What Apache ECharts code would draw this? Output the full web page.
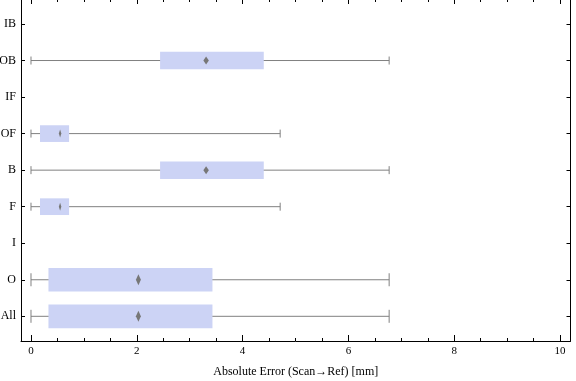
<!DOCTYPE html>
<html>
<head>
<meta charset="utf-8">
<script src="https://cdn.jsdelivr.net/npm/echarts@6/dist/echarts.min.js"></script>
<style>
html,body{margin:0;padding:0;background:#fff;}
#main{width:576px;height:381px;}
</style>
</head>
<body>
<div id="main"></div>
<script>
// ---- data ----
const categories = ['All', 'O', 'I', 'F', 'B', 'OF', 'IF', 'OB', 'IB'];
const whiskerLow  = [0,    0,    null, 0,    0,    0,    null, 0,    null];
const q1          = [0.33, 0.33, null, 0.17, 2.44, 0.17, null, 2.44, null];
const median      = [2.03, 2.03, null, 0.55, 3.31, 0.55, null, 3.31, null];
const q3          = [3.43, 3.43, null, 0.72, 4.40, 0.72, null, 4.40, null];
const whiskerHigh = [6.77, 6.77, null, 4.71, 6.77, 4.71, null, 6.77, null];
const xMajorTicks = [0, 2, 4, 6, 8, 10];
const xMinorTicks = [0.5, 1, 1.5, 2.5, 3, 3.5, 4.5, 5, 5.5, 6.5, 7, 7.5, 8.5, 9, 9.5];
const yTickValues = [1, 2, 3, 4, 5, 6, 7, 8, 9];
const xTitle = 'Absolute Error (Scan\u2192Ref) [mm]';

// ---- styles (not data) ----
const boxStyle = {
  All: {h: 23.7, cap: 13, dw: 5, dh: 11},
  O:   {h: 23.7, cap: 13, dw: 5, dh: 11},
  F:   {h: 16.7, cap: 8,  dw: 2.5, dh: 8},
  OF:  {h: 16.7, cap: 8,  dw: 2.5, dh: 8},
  B:   {h: 17.5, cap: 8,  dw: 5.5, dh: 8},
  OB:  {h: 17.5, cap: 8,  dw: 5.5, dh: 8}
};
const FONT = '"Liberation Serif", "DejaVu Serif", serif';
const BOX_FILL = '#ccd3f5';
const LINE_COLOR = '#808080';
const MED_COLOR = '#777777';

const seriesData = [];
categories.forEach((c, i) => {
  if (median[i] == null) return;
  seriesData.push([i + 1, whiskerLow[i], q1[i], median[i], q3[i], whiskerHigh[i]]);
});

function renderItem(params, api) {
  const yv = api.value(0);
  const cat = categories[yv - 1];
  const st = boxStyle[cat] || {h: 17, cap: 8, dw: 5, dh: 8};
  const pLow = api.coord([api.value(1), yv]);
  const pQ1 = api.coord([api.value(2), yv]);
  const pMed = api.coord([api.value(3), yv]);
  const pQ3 = api.coord([api.value(4), yv]);
  const pHigh = api.coord([api.value(5), yv]);
  const y = pLow[1];
  const lineStyle = {stroke: LINE_COLOR, lineWidth: 1, fill: null};
  return {
    type: 'group',
    children: [
      {type: 'line', shape: {x1: pLow[0], y1: y, x2: pHigh[0], y2: y}, style: lineStyle},
      {type: 'line', shape: {x1: pLow[0], y1: y - st.cap / 2, x2: pLow[0], y2: y + st.cap / 2}, style: lineStyle},
      {type: 'line', shape: {x1: pHigh[0], y1: y - st.cap / 2, x2: pHigh[0], y2: y + st.cap / 2}, style: lineStyle},
      {type: 'rect', shape: {x: pQ1[0], y: y - st.h / 2, width: pQ3[0] - pQ1[0], height: st.h}, style: {fill: BOX_FILL}},
      {type: 'polygon', shape: {points: [
        [pMed[0], y - st.dh / 2], [pMed[0] + st.dw / 2, y],
        [pMed[0], y + st.dh / 2], [pMed[0] - st.dw / 2, y]
      ]}, style: {fill: MED_COLOR}}
    ]
  };
}

const chart = echarts.init(document.getElementById('main'), null, {renderer: 'canvas'});
const XMIN = -0.189, XMAX = 10.198;
const axisLineStyle = {show: true, onZero: false, lineStyle: {color: '#000', width: 1}};
const noLine = {show: false, onZero: false};
chart.setOption({
  animation: false,
  backgroundColor: '#fff',
  grid: {left: 21, right: 5.5, top: -1, bottom: 40, containLabel: false, outerBoundsMode: 'none'},
  xAxis: [
    {
      type: 'value', min: XMIN, max: XMAX, position: 'bottom',
      axisLine: axisLineStyle,
      axisTick: {show: true, inside: true, length: 6, customValues: xMajorTicks, lineStyle: {color: '#000'}},
      axisLabel: {show: true, customValues: xMajorTicks, margin: 5, color: '#000', fontFamily: FONT, fontSize: 11},
      splitLine: {show: false},
      name: xTitle, nameLocation: 'middle', nameGap: 25,
      nameTextStyle: {color: '#000', fontFamily: FONT, fontSize: 12}
    },
    {
      type: 'value', min: XMIN, max: XMAX, position: 'bottom',
      axisLine: noLine,
      axisTick: {show: true, inside: true, length: 3, customValues: xMinorTicks, lineStyle: {color: '#000'}},
      axisLabel: {show: false}, splitLine: {show: false}
    },
    {
      type: 'value', min: XMIN, max: XMAX, position: 'top',
      axisLine: axisLineStyle,
      axisTick: {show: true, inside: true, length: 5, customValues: xMajorTicks, lineStyle: {color: '#000'}},
      axisLabel: {show: false}, splitLine: {show: false}
    },
    {
      type: 'value', min: XMIN, max: XMAX, position: 'top',
      axisLine: noLine,
      axisTick: {show: true, inside: true, length: 3, customValues: xMinorTicks, lineStyle: {color: '#000'}},
      axisLabel: {show: false}, splitLine: {show: false}
    }
  ],
  yAxis: [
    {
      type: 'value', min: 0.324, max: 9.684, position: 'left',
      axisLine: axisLineStyle,
      axisTick: {show: true, inside: true, length: 4, customValues: yTickValues, lineStyle: {color: '#000'}},
      axisLabel: {
        show: true, customValues: yTickValues, margin: 5, color: '#000', fontFamily: FONT, fontSize: 12,
        formatter: v => categories[Math.round(v) - 1] || ''
      },
      splitLine: {show: false}
    },
    {
      type: 'value', min: 0.324, max: 9.684, position: 'right',
      axisLine: axisLineStyle,
      axisTick: {show: true, inside: true, length: 4, customValues: yTickValues, lineStyle: {color: '#000'}},
      axisLabel: {show: false}, splitLine: {show: false}
    }
  ],
  series: [{
    type: 'custom',
    xAxisIndex: 0, yAxisIndex: 0,
    renderItem: renderItem,
    encode: {x: [1, 2, 3, 4, 5], y: 0},
    data: seriesData
  }]
});
</script>
</body>
</html>
